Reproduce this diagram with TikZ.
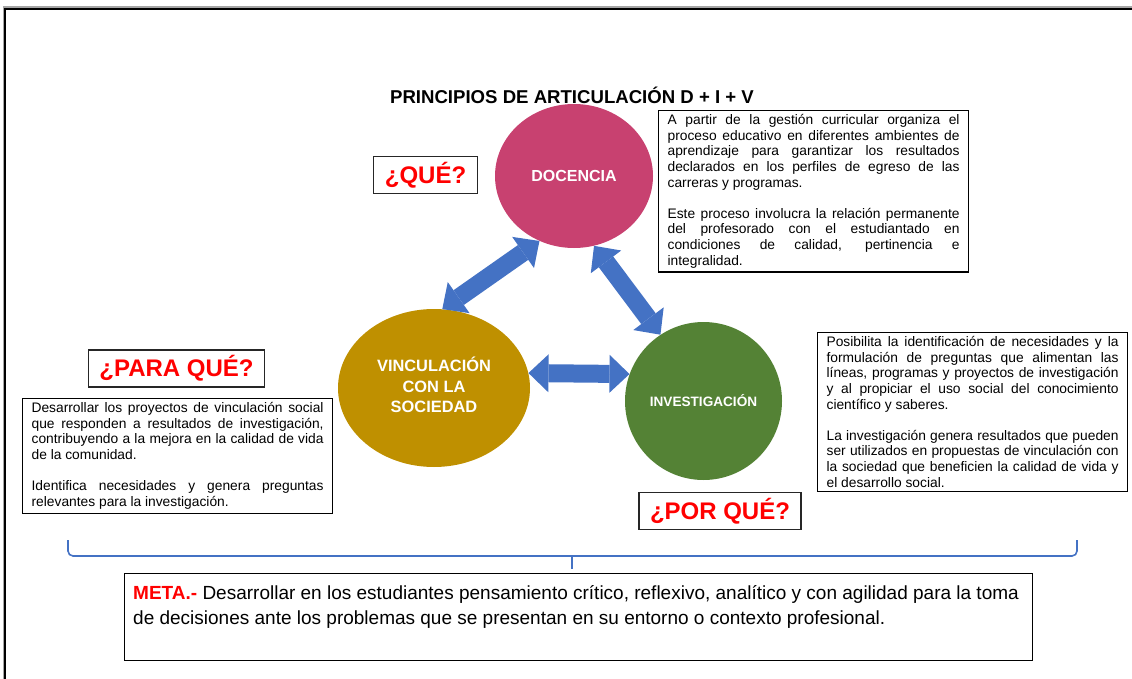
\documentclass[tikz,border=0pt]{standalone}
\usepackage{fontspec}
\setmainfont{Liberation Sans}
\usetikzlibrary{shapes.geometric,arrows.meta}
\definecolor{docpink}{RGB}{200,65,112}
\definecolor{vingold}{RGB}{191,144,0}
\definecolor{invgreen}{RGB}{84,130,53}
\definecolor{arrblue}{RGB}{68,114,196}
\definecolor{qred}{RGB}{255,0,0}
\begin{document}
\begin{tikzpicture}[x=1pt,y=-1pt,
    circ/.style={ellipse,inner sep=0pt,text=white,align=center},
    qbox/.style={draw=black!85,line width=1.3pt,text=qred,font=\fontsize{24}{28}\selectfont\bfseries,inner xsep=11pt,minimum height=37pt},
    txtbox/.style={draw,line width=1.2pt,anchor=north west,text width=292pt,inner xsep=9pt,inner ysep=4pt,align=justify,font=\fontsize{13.8}{15.6}\selectfont},
    dblarrow/.style={arrblue,line width=18pt,{Triangle[length=20pt,width=38pt,line width=0pt]}-{Triangle[length=20pt,width=38pt,line width=0pt]}}]
        \useasboundingbox (0,0) rectangle (1132,679);
        \draw[black!35,line width=3pt] (4,679) -- (4,8) -- (1132,8);
        \draw[line width=1.5pt] (5,679) -- (5,9) -- (1132,9);
        \node[font=\fontsize{18.6}{22}\selectfont\bfseries] (title) at (572,95) {PRINCIPIOS DE ARTICULACIÓN D + I + V};
        \node[circ,fill=docpink,minimum width=158pt,minimum height=144pt,font=\fontsize{16}{19}\selectfont\bfseries] (doc) at (574,176) {DOCENCIA};
        \node[circ,fill=vingold,minimum width=192pt,minimum height=158pt,font=\fontsize{16.4}{20.5}\selectfont\bfseries] (vin) at (434,388) {\raisebox{5pt}{\begin{tabular}{@{}c@{}}VINCULACIÓN\\CON LA\\SOCIEDAD\end{tabular}}};
        \node[circ,fill=invgreen,minimum width=157pt,minimum height=158pt,font=\fontsize{13.6}{16}\selectfont\bfseries] (inv) at (703.5,401) {INVESTIGACIÓN};
        \draw[dblarrow] (doc.242) -- (vin.84);
        \draw[dblarrow] (doc.286) -- (inv.123);
        \draw[dblarrow] (vin.9) -- (inv.160);
        \node[qbox] (que) at (425.5,175) {¿QUÉ?};
        \node[qbox] (paraque) at (176.5,368.5) {¿PARA QUÉ?};
        \node[qbox] (porque) at (720,511) {¿POR QUÉ?};
        \node[txtbox] (doctxt) at (658,110) {A partir de la gestión curricular organiza el\linebreak proceso educativo en diferentes ambientes de\linebreak aprendizaje para garantizar los resultados\linebreak declarados en los perfiles de egreso de las\linebreak carreras y programas.\par\vspace{15.6pt}Este proceso involucra la relación permanente\linebreak del profesorado con el estudiantado en\linebreak condiciones de calidad, pertinencia e\linebreak integralidad.};
        \node[txtbox] (vintxt) at (22,398) {Desarrollar los proyectos de vinculación social\linebreak que responden a resultados de investigación,\linebreak contribuyendo a la mejora en la calidad de vida\linebreak de la comunidad.\par\vspace{15.6pt}Identifica necesidades y genera preguntas\linebreak relevantes para la investigación.};
        \node[txtbox] (invtxt) at (817,332) {Posibilita la identificación de necesidades y la\linebreak formulación de preguntas que alimentan las\linebreak líneas, programas y proyectos de investigación\linebreak y al propiciar el uso social del conocimiento\linebreak científico y saberes.\par\vspace{15.6pt}La investigación genera resultados que pueden\linebreak ser utilizados en propuestas de vinculación con\linebreak la sociedad que beneficien la calidad de vida y\linebreak el desarrollo social.};
        \draw[arrblue,line width=1.6pt,rounded corners=5pt] (68,540) -- (68,556) -- (1077,556) -- (1077,540);
        \draw[arrblue,line width=1.6pt] (572,556) -- (572,569);
        \node[draw,line width=1.3pt,minimum width=908pt,minimum height=87pt,anchor=north west] (meta) at (124,573) {};
        \node[anchor=north west,align=left,inner sep=0pt,font=\fontsize{19}{25}\selectfont] (metatxt) at ([xshift=9pt,yshift=-12pt]meta.north west) {\textcolor{qred}{\bfseries META.-} Desarrollar en los estudiantes pensamiento crítico, reflexivo, analítico y con agilidad para la toma\\de decisiones ante los problemas que se presentan en su entorno o contexto profesional.};
\end{tikzpicture}
\end{document}
